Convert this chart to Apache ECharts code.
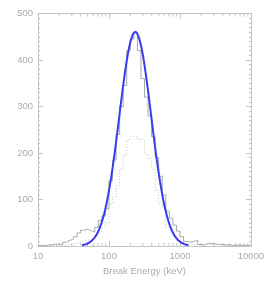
<!DOCTYPE html>
<html>
<head>
<meta charset="utf-8">
<script src="https://cdn.jsdelivr.net/npm/echarts@6/dist/echarts.min.js"></script>
<style>
html,body{margin:0;padding:0;background:#fff;}
#c{width:273px;height:284px;}
</style>
</head>
<body>
<div id="c"></div>
<script>
// Histogram bin edges (keV), 0.05 dex bins
var binEdges = [10, 11.22, 12.59, 14.13, 15.85, 17.78, 19.95, 22.39, 25.12, 28.18,
  31.62, 35.48, 39.81, 44.67, 50.12, 56.23, 63.10, 70.79, 79.43, 89.13,
  100, 112.2, 125.9, 141.3, 158.5, 177.8, 199.5, 223.9, 251.2, 281.8,
  316.2, 354.8, 398.1, 446.7, 501.2, 562.3, 631.0, 707.9, 794.3, 891.3,
  1000, 1122, 1259, 1413, 1585, 1778, 1995, 2239, 2512, 2818,
  3162, 3548, 3981, 4467, 5012, 5623, 6310, 7079, 7943, 8913, 10000];

// Solid histogram counts (one per bin)
var solidCounts = [1, 1, 2, 3, 4, 4, 3, 8, 12, 15,
  20, 28, 34, 36, 33, 30, 40, 55, 65, 80,
  140, 185, 240, 300, 345, 420, 445, 460, 420, 360,
  320, 280, 235, 190, 150, 110, 75, 60, 45, 32,
  20, 10, 8, 10, 12, 3, 2, 6, 5, 5,
  3, 3, 2, 2, 1, 2, 2, 1, 2, 2];

// Dotted histogram counts (one per bin)
var dottedCounts = [0, 0, 1, 1, 1, 1, 1, 2, 3, 4,
  6, 8, 10, 12, 14, 16, 22, 30, 38, 50,
  90, 105, 130, 165, 195, 228, 236, 236, 230, 228,
  198, 188, 165, 120, 90, 84, 40, 30, 20, 12,
  6, 4, 3, 3, 2, 4, 4, 4, 3, 3,
  3, 3, 3, 3, 1, 1, 1, 1, 1, 1];

var fitEnergy = [41.7, 46.8, 52.5, 58.9, 66.1, 74.1, 83.2, 93.3, 104.7, 117.5,
  131.8, 147.9, 166.0, 186.2, 208.9, 234.4, 263.0, 295.1, 331.1, 371.5,
  416.9, 467.7, 524.8, 588.8, 660.7, 741.3, 831.8, 933.3, 1047, 1175, 1318];
var fitCounts = [1.8, 3.6, 7.1, 13.1, 23.2, 38.9, 62.3, 94.7, 137.2, 189.1,
  248.1, 309.9, 368.3, 416.7, 448.8, 460, 448.8, 416.7, 368.3, 309.9,
  248.1, 189.1, 137.2, 94.7, 62.3, 38.9, 23.2, 13.1, 7.1, 3.6, 1.8];

var xTickLabels = ['10', '100', '1000', '10000'];
var yTickLabels = ['0', '100', '200', '300', '400', '500'];
var xTitle = 'Break Energy (keV)';

var minorTickValues = [];
[10, 100, 1000].forEach(function (d) {
  for (var m = 2; m <= 9; m++) minorTickValues.push(d * m);
});

function histData(counts) {
  var out = [];
  for (var i = 0; i < counts.length; i++) out.push([binEdges[i], counts[i]]);
  out.push([binEdges[counts.length], counts[counts.length - 1]]);
  return out;
}

var axisGray = '#c4c4c4';
var textGray = '#ababab';
var font = 'Liberation Sans';

var chart = echarts.init(document.getElementById('c'), null, {renderer: 'canvas'});
var option = {
  animation: false,
  backgroundColor: '#fff',
  grid: {left: 38, right: 22, top: 13.5, bottom: 38},
  xAxis: [{
    type: 'log', logBase: 10, min: 10, max: 10000,
    name: xTitle, nameLocation: 'middle', nameGap: 13,
    nameTextStyle: {color: textGray, fontSize: 9.5, fontFamily: font},
    axisLine: {onZero: false, lineStyle: {color: axisGray}},
    axisTick: {inside: true, length: 5, lineStyle: {color: axisGray}},
    axisLabel: {color: textGray, fontSize: 9.5, fontFamily: font, margin: 5,
      formatter: function (v) {
        var s = String(Math.round(v));
        return xTickLabels.indexOf(s) >= 0 ? s : '';
      }},
    splitLine: {show: false}
  }, {
    type: 'log', logBase: 10, min: 10, max: 10000, position: 'top',
    axisLine: {onZero: false, lineStyle: {color: axisGray}},
    axisTick: {inside: true, length: 5, lineStyle: {color: axisGray}},
    axisLabel: {show: false},
    splitLine: {show: false}
  }],
  yAxis: [{
    type: 'value', min: 0, max: 500, interval: 100,
    axisLine: {show: true, onZero: false, lineStyle: {color: axisGray}},
    axisTick: {show: true, inside: true, length: 5, lineStyle: {color: axisGray}},
    minorTick: {show: true, splitNumber: 10, length: 2, lineStyle: {color: axisGray}},
    axisLabel: {color: textGray, fontSize: 9.5, fontFamily: font, margin: 5,
      formatter: function (v) {
        var s = String(v);
        return yTickLabels.indexOf(s) >= 0 ? s : '';
      }},
    splitLine: {show: false}
  }, {
    type: 'value', min: 0, max: 500, interval: 100, position: 'right',
    axisLine: {show: true, onZero: false, lineStyle: {color: axisGray}},
    axisTick: {show: true, inside: true, length: 5, lineStyle: {color: axisGray}},
    minorTick: {show: true, splitNumber: 10, length: 2, lineStyle: {color: axisGray}},
    axisLabel: {show: false},
    splitLine: {show: false}
  }],
  series: [{
    type: 'custom',
    silent: true,
    data: minorTickValues.map(function (v) { return [v]; }),
    encode: {x: 0},
    renderItem: function (params, api) {
      var b = api.coord([api.value(0), 0]);
      var t = api.coord([api.value(0), 500]);
      var st = {stroke: axisGray, lineWidth: 1};
      return {type: 'group', children: [
        {type: 'line', shape: {x1: b[0], y1: b[1], x2: b[0], y2: b[1] - 3}, style: st},
        {type: 'line', shape: {x1: t[0], y1: t[1], x2: t[0], y2: t[1] + 3}, style: st}
      ]};
    }
  }, {
    type: 'line', step: 'end', symbol: 'none', data: histData(dottedCounts),
    lineStyle: {color: '#bdbdbd', width: 1, type: [1, 2]}
  }, {
    type: 'line', step: 'end', symbol: 'none', data: histData(solidCounts),
    lineStyle: {color: '#a8a8a8', width: 1}
  }, {
    type: 'line', smooth: 0.3, symbol: 'none',
    data: fitEnergy.map(function (e, i) { return [e, fitCounts[i]]; }),
    lineStyle: {color: '#3b3bf0', width: 2}
  }]
};
chart.setOption(option);
</script>
</body>
</html>
